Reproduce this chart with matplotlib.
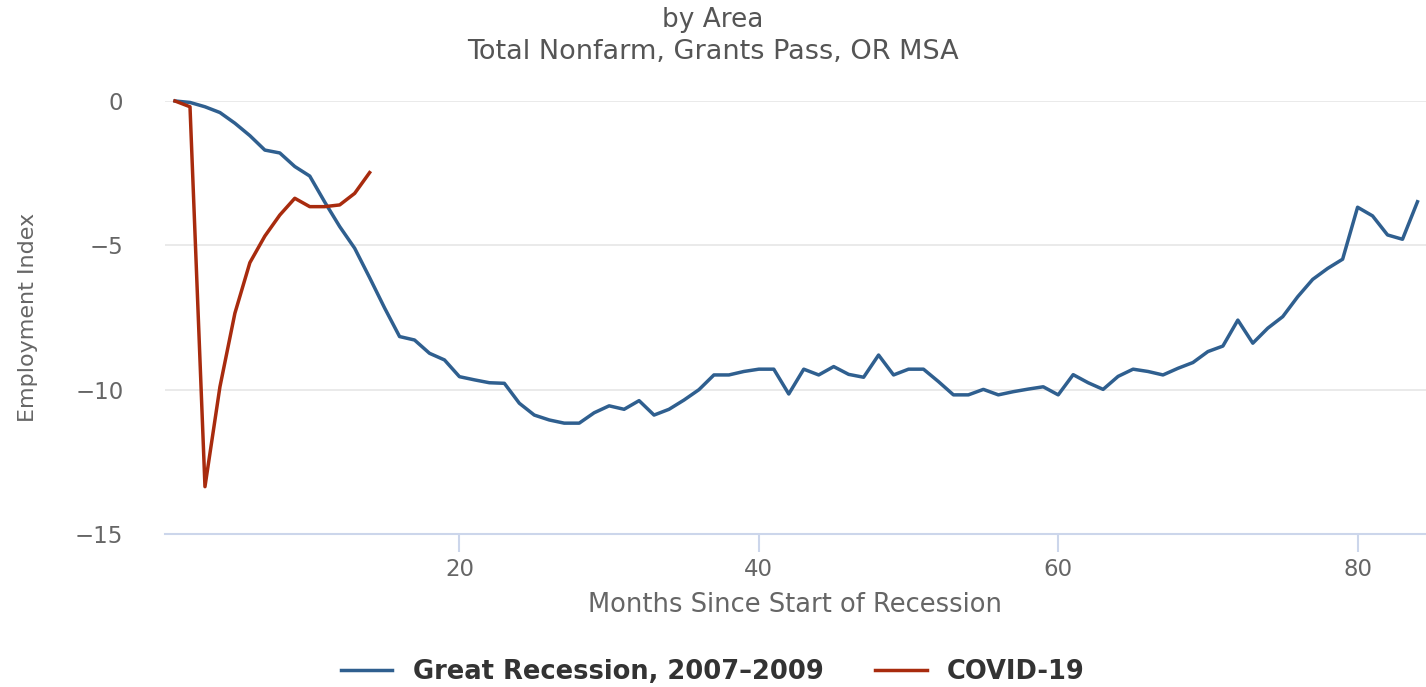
import numpy as np
import matplotlib.pyplot as plt

# months since start of recession
months_gr = list(range(1, 85))
great_recession = [
    0.0, -0.05, -0.2, -0.4, -0.77, -1.2, -1.7, -1.8, -2.27, -2.6,
    -3.5, -4.35, -5.1, -6.12, -7.17, -8.16, -8.28, -8.74, -8.97, -9.55,
    -9.66, -9.76, -9.78, -10.47, -10.88, -11.05, -11.16, -11.16, -10.8, -10.56,
    -10.68, -10.38, -10.88, -10.68, -10.36, -10.0, -9.49, -9.49, -9.37, -9.29,
    -9.29, -10.15, -9.29, -9.49, -9.2, -9.47, -9.57, -8.8, -9.49, -9.29,
    -9.29, -9.72, -10.18, -10.18, -9.99, -10.18, -10.07, -9.98, -9.9, -10.18,
    -9.48, -9.76, -9.99, -9.54, -9.29, -9.37, -9.49, -9.26, -9.06, -8.68,
    -8.49, -7.59, -8.39, -7.87, -7.47, -6.78, -6.18, -5.8, -5.48, -3.68,
    -3.98, -4.64, -4.79, -3.49,
]

months_cv = list(range(1, 15))
covid = [
    0.0, -0.2, -13.36, -9.9, -7.35, -5.6, -4.68, -3.95, -3.37, -3.66,
    -3.66, -3.6, -3.2, -2.48,
]

yticks = [0, -5, -10, -15]
xticks = [20, 40, 60, 80]

W, H = 1426, 687
fig = plt.figure(figsize=(W / 100, H / 100), dpi=100)
ax = fig.add_axes([165 / W, (H - 534) / H, 1 - 165 / W, (534 - 101) / H])

for y in yticks:
    ax.axhline(y, color='#e6e6e6', lw=1.2, zorder=0)

ax.plot(months_gr, great_recession, color='#2f5f8f', lw=2.5,
        label='Great Recession, 2007\u20132009', clip_on=False, zorder=3)
ax.plot(months_cv, covid, color='#a82b0e', lw=2.5,
        label='COVID-19', clip_on=False, zorder=4)

ax.set_xlim(0.33, 84.57)
ax.set_ylim(-15, 0)
ax.set_xticks(xticks)
ax.set_yticks(yticks)
ax.set_yticklabels(['0', '\u22125', '\u221210', '\u221215'])

for s in ['top', 'right', 'left']:
    ax.spines[s].set_visible(False)
ax.spines['bottom'].set_color('#ccd6eb')
ax.spines['bottom'].set_linewidth(1.5)

ax.tick_params(axis='x', colors='#ccd6eb', length=13, width=1.5,
               labelcolor='#666666', labelsize=16.5, pad=4)
ax.tick_params(axis='y', length=0, labelcolor='#666666', labelsize=16.5, pad=30)

ax.set_xlabel('Months Since Start of Recession', fontsize=18.5,
              color='#666666', labelpad=8)
ax.set_ylabel('Employment Index', fontsize=16, color='#666666')
ax.yaxis.set_label_coords(-127 / (W - 165), 0.5)

fig.text(0.5, 1 - 20 / H, 'by Area', ha='center', va='center',
         fontsize=19, color='#555555')
fig.text(0.5, 1 - 52 / H, 'Total Nonfarm, Grants Pass, OR MSA', ha='center',
         va='center', fontsize=19.5, color='#555555')

leg = fig.legend(loc='center', bbox_to_anchor=(0.5, 1 - 672 / H), ncol=2,
                 frameon=False, handlelength=2.0, columnspacing=2.0,
                 prop={'size': 18.5, 'weight': 'bold'})
for t in leg.get_texts():
    t.set_color('#333333')

fig.savefig('out.png', dpi=100)
